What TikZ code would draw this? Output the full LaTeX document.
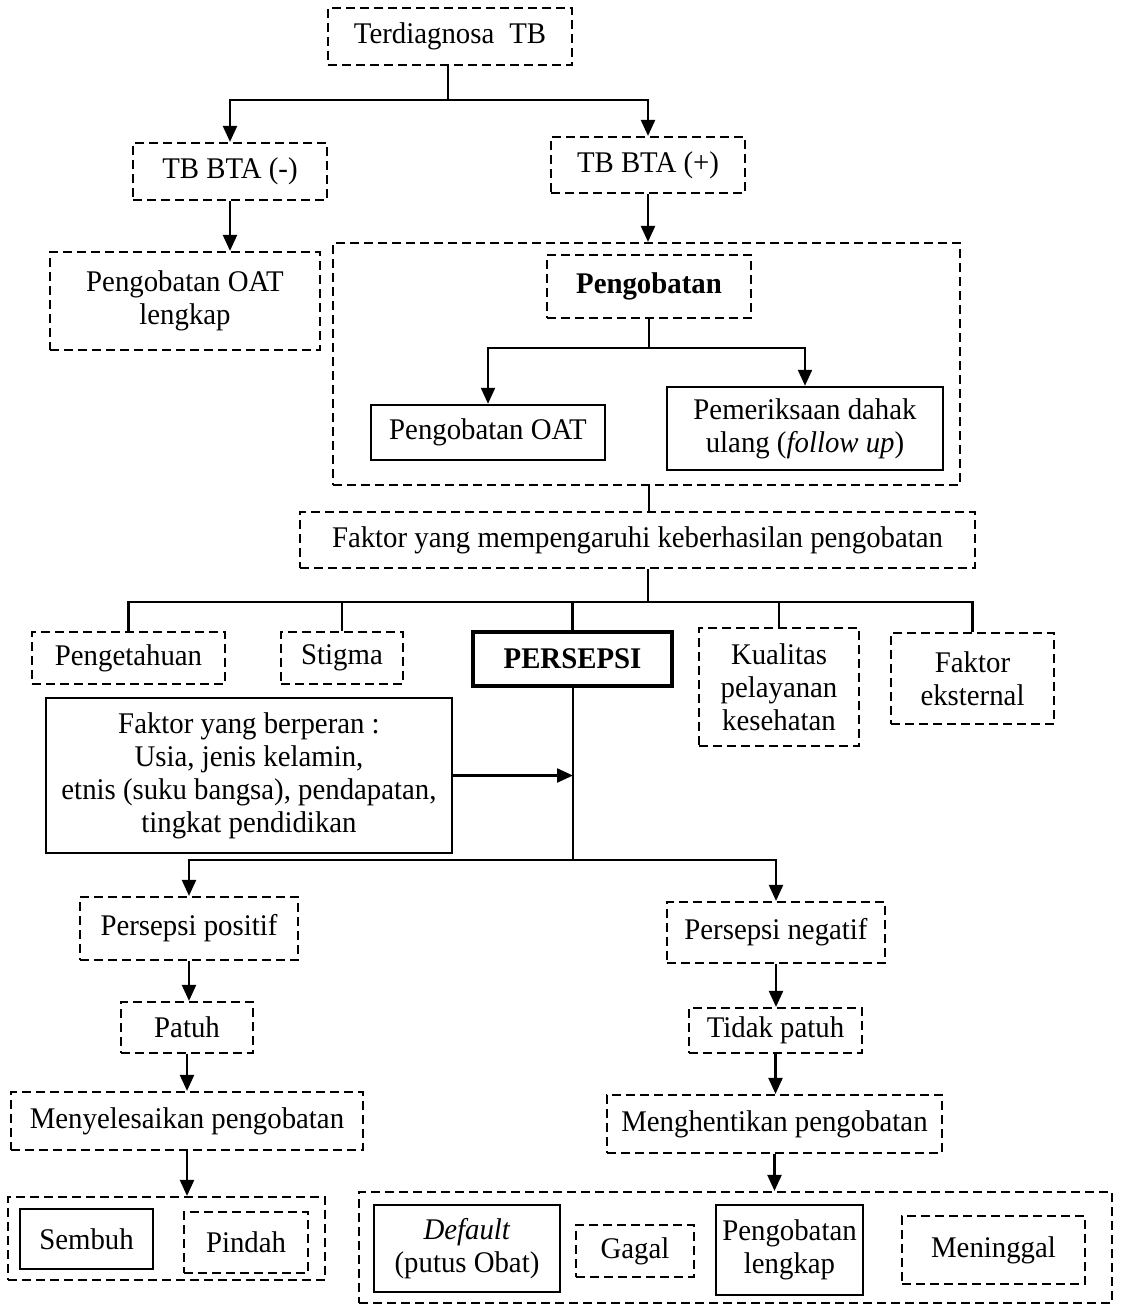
\documentclass[tikz,border=0pt]{standalone}
\usepackage{fontspec}
\setmainfont{Liberation Serif}[FakeStretch=0.96]
\usetikzlibrary{arrows.meta}
\begin{document}
\begin{tikzpicture}[x=1pt,y=-1pt,
  every node/.style={font=\fontsize{30}{33}\selectfont, inner sep=0pt, align=center},
  dbox/.style={draw, line width=2.2pt, dash pattern=on 9pt off 5pt},
  sbox/.style={draw, line width=2.5pt},
  tbox/.style={draw, line width=3.8pt},
  link/.style={line width=2.3pt},
  arr/.style={line width=2.3pt, -{Triangle[length=16pt,width=14pt]}},
  sz/.style 2 args={minimum width=#1pt, minimum height=#2pt},
]
\useasboundingbox[fill=white] (0,0) rectangle (1121,1306);

% top of the chart
\node[dbox, sz={244}{57}] (term) at (450,36.5) {Terdiagnosa\enspace TB};
\node[dbox, sz={194}{57}] (neg) at (230,171.5) {TB BTA (-)};
\node[dbox, sz={194}{56}] (pos) at (648,165) {TB BTA (+)};
\node[dbox, sz={270}{98}] (oatl) at (185,301) {Pengobatan OAT\\lengkap};

% treatment group
\node[dbox, sz={627}{242}] (big) at (646.5,364) {};
\node[dbox, sz={204}{63}, font=\fontsize{30}{33}\selectfont\bfseries] (peng) at (649,286.5) {Pengobatan};
\node[sbox, sz={234}{55}] (oat) at (488,432.5) {Pengobatan OAT};
\node[sbox, sz={276}{83}] (periksa) at (805,428.5) {Pemeriksaan dahak\\ulang (\textit{follow up})};

% factors
\node[dbox, sz={675}{56}] (faktor) at (637.5,540) {Faktor yang mempengaruhi keberhasilan pengobatan};
\node[dbox, sz={193}{52}] (tahu) at (128.5,658) {Pengetahuan};
\node[dbox, sz={122}{52}] (stigma) at (342,658) {Stigma};
\node[tbox, sz={199}{54}, font=\fontsize{30}{33}\selectfont\bfseries] (persepsi) at (572.5,659) {PERSEPSI};
\node[dbox, sz={160}{118}] (kualitas) at (779,687) {Kualitas\\pelayanan\\kesehatan};
\node[dbox, sz={163}{91}] (eksternal) at (972.5,678.5) {Faktor\\eksternal};
\node[sbox, sz={406}{155}] (berperan) at (249,775.5) {Faktor yang berperan :\\Usia, jenis kelamin,\\etnis (suku bangsa), pendapatan,\\tingkat pendidikan};

% positive branch
\node[dbox, sz={218}{63}] (ppos) at (189,928.5) {Persepsi positif};
\node[dbox, sz={132}{51}] (patuh) at (187,1027.5) {Patuh};
\node[dbox, sz={352}{58}] (selesai) at (187,1121) {Menyelesaikan pengobatan};
\node[dbox, sz={317}{83}] (gpos) at (166.5,1238.5) {};
\node[sbox, sz={133}{60}] (sembuh) at (86.5,1239) {Sembuh};
\node[dbox, sz={124}{61}] (pindah) at (246,1242.5) {Pindah};

% negative branch
\node[dbox, sz={218}{61}] (pneg) at (776,932.5) {Persepsi negatif};
\node[dbox, sz={173}{45}] (tpatuh) at (775.5,1030.5) {Tidak patuh};
\node[dbox, sz={335}{58}] (henti) at (774.5,1124) {Menghentikan pengobatan};
\node[dbox, sz={753}{111}] (gneg) at (735.5,1247.5) {};
\node[sbox, sz={186}{87}] (default) at (467,1248.5) {\textit{Default}\\(putus Obat)};
\node[dbox, sz={118}{52}] (gagal) at (635,1251) {Gagal};
\node[sbox, sz={147}{90}] (lengkap) at (789.5,1250) {Pengobatan\\lengkap};
\node[dbox, sz={183}{68}] (mening) at (993.5,1250) {Meninggal};

% junction points
\coordinate (j1) at (448,100);
\coordinate (j2) at (649,348);
\coordinate (j3) at (648,602);
\coordinate (j4) at (573,860);

% connectors
\draw[link] (term.south -| j1) -- (j1);
\draw[arr] (j1) -| (neg.north);
\draw[arr] (j1) -| (pos.north);
\draw[arr] (neg.south) -- (neg.south |- oatl.north);
\draw[arr] (pos.south) -- (pos.south |- big.north);
\draw[link] (peng.south) -- (j2);
\draw[arr] (j2) -| (oat.north);
\draw[arr] (j2) -| (periksa.north);
\draw[link] (big.south -| j2) -- (faktor.north -| j2);
\draw[link] (faktor.south -| j3) -- (j3);
\draw[link] (j3) -| (tahu.north);
\draw[link] (j3) -| (stigma.north);
\draw[link] (j3) -| (persepsi.north);
\draw[link] (j3) -| (kualitas.north);
\draw[link] (j3) -| (eksternal.north);
\draw[link] (persepsi.south -| j4) -- (j4);
\draw[arr] (berperan.east) -- (berperan.east -| j4);
\draw[arr] (j4) -| (ppos.north);
\draw[arr] (j4) -| (pneg.north);
\draw[arr] (ppos.south) -- (ppos.south |- patuh.north);
\draw[arr] (patuh.south) -- (patuh.south |- selesai.north);
\draw[arr] (selesai.south) -- (selesai.south |- gpos.north);
\draw[arr] (pneg.south) -- (pneg.south |- tpatuh.north);
\draw[arr] (tpatuh.south) -- (tpatuh.south |- henti.north);
\draw[arr] (henti.south) -- (henti.south |- gneg.north);
\end{tikzpicture}
\end{document}
